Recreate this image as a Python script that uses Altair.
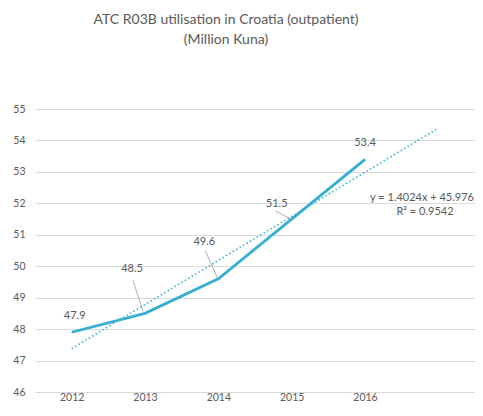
import altair as alt
import pandas as pd

# ---- data ----
years = ["2012", "2013", "2014", "2015", "2016"]
values = [47.9, 48.5, 49.6, 51.5, 53.4]
labels = ["47.9", "48.5", "49.6", "51.5", "53.4"]
trend_slope = 1.4024
trend_intercept = 45.976
trend_r2 = 0.9542
trend_x = [1, 6]  # trendline forecast one period forward

idx = list(range(1, len(years) + 1))
df = pd.DataFrame({"i": idx, "year": years, "value": values, "label": labels})
trend_df = pd.DataFrame({"i": trend_x,
                         "value": [trend_slope * x + trend_intercept for x in trend_x]})

FONT = "Lato"
GREY = "#595959"
BLUE = "#36AFD2"

label_expr = "[" + ",".join("'%s'" % y for y in years) + "][datum.value-1]"

x = alt.X("i:Q", scale=alt.Scale(domain=[0.5, 6.5], nice=False, zero=False),
          axis=alt.Axis(values=idx, labelExpr=label_expr, grid=False, domain=False,
                        ticks=False, labelPadding=0, title=None))
y = alt.Y("value:Q", scale=alt.Scale(domain=[46, 55], nice=False, zero=False),
          axis=alt.Axis(values=list(range(46, 56)), domain=False, ticks=False,
                        labelOverlap=False, labelPadding=10, title=None,
                        gridColor="#d9d9d9", gridWidth=1))

base = alt.Chart(df)

line = base.mark_line(color=BLUE, strokeWidth=2.8).encode(x=x, y=y)
trend = alt.Chart(trend_df).mark_line(color=BLUE, strokeWidth=1.6,
                                      strokeDash=[1.5, 2.5]).encode(x=x, y=y)

# label placement (pixel offsets from the data point) and leader lines
offsets = {1: (3, -16), 2: (-13, -44), 3: (-14, -37), 4: (-15, -15), 5: (0, -16)}
leaders = {2: (-2, -2, -12, -33), 3: (-1, -1, -13, -28), 4: (-1, 0, -16, -8)}

layers = [line, trend]
for k, (dx, dy) in offsets.items():
    layers.append(
        base.transform_filter(alt.datum.i == k)
        .mark_text(font=FONT, fontSize=11, color=GREY, dx=dx, dy=dy)
        .encode(x=x, y=y, text="label:N")
    )
for k, (x1, y1, x2o, y2o) in leaders.items():
    layers.append(
        base.transform_filter(alt.datum.i == k)
        .mark_rule(color="#9a9a9a", strokeWidth=0.8, xOffset=x1, yOffset=y1,
                   x2Offset=x2o, y2Offset=y2o)
        .encode(x=x, y=y, x2="i:Q", y2="value:Q")
    )

eq1 = alt.Chart(df.head(1)).mark_text(font=FONT, fontSize=11, color=GREY,
                                      align="right").encode(
    x=alt.value(439), y=alt.value(89),
    text=alt.value("y = %.4fx + %.3f" % (trend_slope, trend_intercept)))
eq2 = alt.Chart(df.head(1)).mark_text(font=FONT, fontSize=11, color=GREY).encode(
    x=alt.value(390), y=alt.value(103),
    text=alt.value("R² = %.4f" % trend_r2))
layers += [eq1, eq2]

chart = alt.layer(*layers).properties(
    width=440, height=283,
    autosize=alt.AutoSizeParams(type="none"),
    padding={"left": 27, "top": 101, "right": 0, "bottom": 10},
    title=alt.TitleParams(
        text=["ATC R03B utilisation in Croatia (outpatient)", "(Million Kuna)"],
        font=FONT, fontSize=14, fontWeight="normal", color=GREY,
        anchor="middle", frame="group", dx=-29, offset=57, lineHeight=20),
).configure_view(stroke=None).configure_axis(
    labelFont=FONT, labelFontSize=10.5, labelColor=GREY
)

chart.save("out.html", embed_options={"renderer": "svg", "actions": False})
